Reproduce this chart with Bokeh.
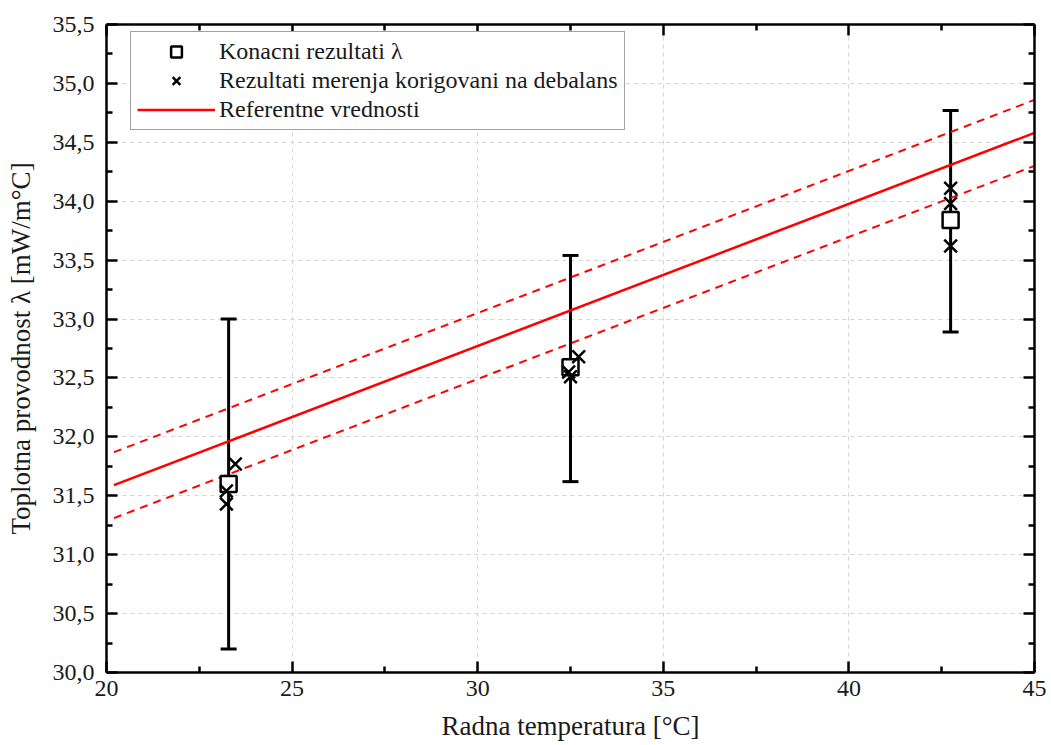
from bokeh.plotting import figure
from bokeh.models import (Range1d, FixedTicker, LinearAxis, Legend, LegendItem)
from bokeh.embed import file_html
from bokeh.resources import INLINE

# ---- data ----
temps = [23.29, 32.50, 42.74]
lam_final = [31.60, 32.59, 33.84]
err_low = [30.20, 31.62, 32.89]
err_high = [33.00, 33.54, 34.77]

cross_x = [23.47, 23.23, 23.23, 32.72, 32.45, 32.50, 42.74, 42.74, 42.74]
cross_y = [31.77, 31.54, 31.43, 32.68, 32.55, 32.51, 34.11, 33.98, 33.62]

ref_x = [20.2, 45.0]
ref_y = [31.59, 34.58]
ref_upper = [31.87, 34.86]
ref_lower = [31.31, 34.30]

x_ticks = [20, 25, 30, 35, 40, 45]
x_minor = [22.5, 27.5, 32.5, 37.5, 42.5]
y_ticks = [30.0, 30.5, 31.0, 31.5, 32.0, 32.5, 33.0, 33.5, 34.0, 34.5, 35.0, 35.5]
y_minor = [30.25, 30.75, 31.25, 31.75, 32.25, 32.75, 33.25, 33.75, 34.25, 34.75, 35.25]
y_labels = {t: ("%.1f" % t).replace(".", ",") for t in y_ticks}

x_title = "Radna temperatura [°C]"
y_title = "Toplotna provodnost λ [mW/m°C]"
leg_labels = ["Konacni rezultati λ", "Rezultati merenja korigovani na debalans",
              "Referentne vrednosti"]

FONT = "Liberation Serif"

p = figure(frame_width=928, frame_height=648, output_backend="svg",
           toolbar_location=None, x_range=Range1d(20, 45), y_range=Range1d(30, 35.5),
           min_border_left=106, min_border_top=24, min_border_right=12,
           min_border_bottom=62, x_axis_location=None, y_axis_location=None)
p.outline_line_color = None
p.background_fill_color = "white"
p.border_fill_color = "white"


def style_axis(ax, labels=True):
    ax.axis_line_width = 2.5
    ax.axis_line_color = "black"
    ax.major_tick_in = 11
    ax.major_tick_out = 0
    ax.minor_tick_in = 6
    ax.minor_tick_out = 0
    ax.major_tick_line_width = 2.5
    ax.minor_tick_line_width = 2.5
    ax.major_tick_line_color = "black"
    ax.minor_tick_line_color = "black"
    ax.major_label_text_font = FONT
    ax.major_label_text_font_size = "24px" if labels else "0px"
    ax.major_label_text_color = "#1a1a1a"
    ax.axis_label_text_font = FONT
    ax.axis_label_text_font_size = "27px"
    ax.axis_label_text_font_style = "normal"
    ax.axis_label_text_color = "#1a1a1a"


xt = FixedTicker(ticks=x_ticks, minor_ticks=x_minor)
yt = FixedTicker(ticks=y_ticks, minor_ticks=y_minor)

bottom = LinearAxis(ticker=xt, axis_label=x_title)
style_axis(bottom)
bottom.major_label_standoff = 8
bottom.axis_label_standoff = 12
left = LinearAxis(ticker=yt, axis_label=y_title, major_label_overrides=y_labels)
style_axis(left)
left.major_label_standoff = 12
left.axis_label_standoff = 14
top = LinearAxis(ticker=xt)
style_axis(top, labels=False)
right = LinearAxis(ticker=yt)
style_axis(right, labels=False)
for ax in (top, right):
    ax.major_label_text_alpha = 0
p.add_layout(bottom, "below")
p.add_layout(left, "left")
p.add_layout(top, "above")
p.add_layout(right, "right")

p.xgrid.ticker = xt
p.ygrid.ticker = yt
for g in (p.xgrid, p.ygrid):
    g.grid_line_color = "#d4d4d4"
    g.grid_line_dash = "4 4"
    g.grid_line_width = 1

# error bars
p.segment(x0=temps, y0=err_low, x1=temps, y1=err_high, line_color="black", line_width=3)
p.scatter(x=temps, y=err_low, marker="dash", size=16, line_color="black", line_width=3)
p.scatter(x=temps, y=err_high, marker="dash", size=16, line_color="black", line_width=3)

# reference lines
r_ref = p.line(ref_x, ref_y, line_color="#ff0000", line_width=2.5)
p.line(ref_x, ref_upper, line_color="#ff0000", line_width=2, line_dash="8 6")
p.line(ref_x, ref_lower, line_color="#ff0000", line_width=2, line_dash="8 6")

# final results
r_sq = p.scatter(x=temps, y=lam_final, marker="square", size=16, fill_color="white",
                 line_color="black", line_width=2.5)
# corrected measurements
r_x = p.scatter(x=cross_x, y=cross_y, marker="x", size=18, line_color="black",
                line_width=2.5)

legend = Legend(items=[LegendItem(label=leg_labels[0], renderers=[r_sq]),
                       LegendItem(label=leg_labels[1], renderers=[r_x]),
                       LegendItem(label=leg_labels[2], renderers=[r_ref])],
                location=(24, 542))
legend.label_text_font = FONT
legend.label_text_font_size = "24px"
legend.label_text_color = "#1a1a1a"
legend.glyph_width = 78
legend.glyph_height = 27
legend.label_height = 27
legend.spacing = 2
legend.padding = 6
legend.margin = 0
legend.label_standoff = 4
legend.border_line_color = "#444444"
legend.border_line_width = 1.2
legend.background_fill_alpha = 1
p.add_layout(legend, "center")

open("out.html", "w").write(file_html(p, INLINE))
